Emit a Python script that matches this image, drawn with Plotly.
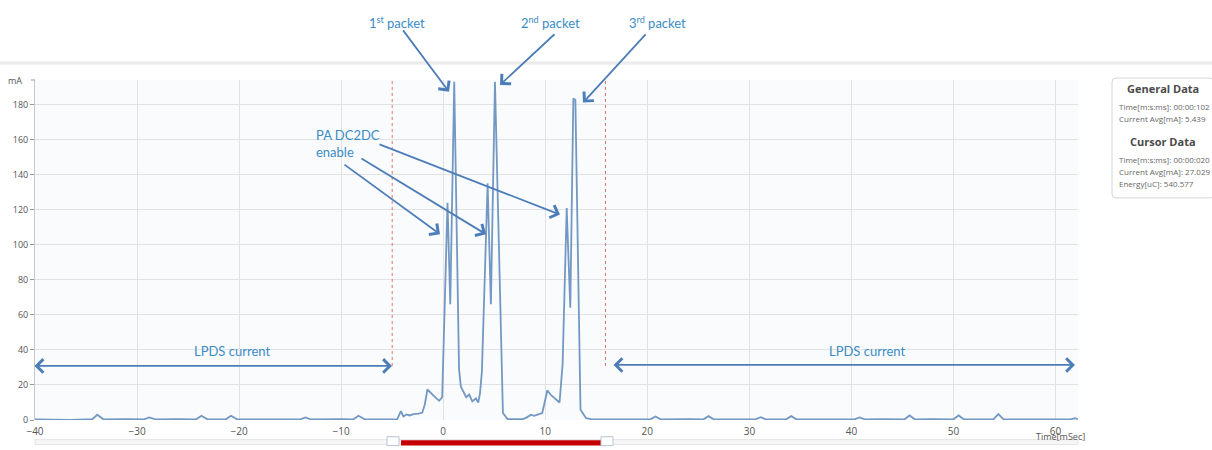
import plotly.graph_objects as go

# Current trace of a three-packet transmission (time in ms, current in mA)
time_ms = [
    -40.0, -38.0, -36.5, -35.0, -34.4, -33.9, -33.3, -31.0, -29.3, -28.8, -28.2,
    -26.0, -24.2, -23.7, -23.1, -21.3, -20.8, -20.2, -17.0, -14.0, -13.5, -13.0,
    -10.0, -8.8, -8.3, -7.7, -5.5, -4.5, -4.15, -3.9, -3.6, -3.3, -2.9, -2.4,
    -2.05, -1.8, -1.55, -1.1, -0.7, -0.4, -0.1, 0.42, 0.69, 1.08, 1.55, 1.73,
    2.0, 2.25, 2.55, 2.85, 3.2, 3.43, 3.6, 3.79, 4.35, 4.67, 5.07, 5.85, 6.3,
    7.8, 8.2, 8.6, 8.9, 9.3, 9.7, 9.9, 10.2, 10.6, 11.0, 11.4, 11.7, 12.1, 12.45,
    12.75, 12.95, 13.45, 13.6, 14.0, 14.5, 17.0, 19.0, 20.3, 20.8, 21.3, 24.0,
    25.5, 26.0, 26.5, 29.0, 30.6, 31.1, 31.6, 33.6, 34.1, 34.6, 37.0, 40.3,
    40.8, 41.3, 43.0, 45.2, 45.7, 46.2, 48.0, 50.0, 50.5, 51.0, 53.9, 54.4,
    54.9, 58.0, 61.5, 61.9, 62.2,
]
current_ma = [
    0.4, 0.3, 0.0, 0.4, 0.4, 3.0, 0.4, 0.5, 0.4, 1.5, 0.4,
    0.5, 0.4, 2.4, 0.4, 0.4, 2.4, 0.4, 0.5, 0.4, 1.5, 0.4,
    0.5, 0.4, 2.4, 0.4, 0.4, 0.5, 5.0, 2.0, 3.2, 2.6, 3.4, 3.6,
    4.2, 9.0, 17.4, 14.5, 12.5, 11.0, 13.0, 124.0, 66.0, 193.0, 29.0, 19.0,
    16.0, 13.0, 14.5, 10.6, 12.3, 10.0, 15.0, 27.6, 135.0, 66.0, 193.0, 4.0, 0.5,
    0.5, 1.5, 3.0, 2.4, 3.2, 4.0, 9.0, 17.0, 14.0, 12.0, 10.0, 32.0, 121.0, 64.0,
    183.5, 182.6, 6.0, 4.5, 1.0, 0.5, 0.4, 0.5, 0.4, 2.0, 0.4, 0.5,
    0.4, 2.2, 0.4, 0.4, 0.4, 1.6, 0.4, 0.4, 2.2, 0.4, 0.5, 0.4,
    1.5, 0.4, 0.5, 0.4, 2.6, 0.4, 0.5, 0.4, 2.6, 0.4, 0.4, 3.4,
    0.4, 0.5, 0.4, 1.0, 0.5,
]

# Cursor markers (ms)
cursor_start = -5.0
cursor_end = 15.9

y_ticks = [0, 20, 40, 60, 80, 100, 120, 140, 160, 180]
x_ticks = [-40, -30, -20, -10, 0, 10, 20, 30, 40, 50, 60]

general_rows = ["Time[m:s:ms]: 00:00:102", "Current Avg[mA]: 5.439"]
cursor_rows = ["Time[m:s:ms]: 00:00:020", "Current Avg[mA]: 27.029", "Energy[uC]: 540.577"]

W, H = 1212, 450
ML, MR, MT, MB = 35, 134, 80, 24
PW, PH = W - ML - MR, H - MT - MB
X_RANGE = [-40, 62.2]
Y_RANGE = [0, 194]


def px(x):
    return (x - ML) / PW


def py(y):
    return (H - MB - y) / PH


def dx(x):
    return X_RANGE[0] + (x - ML) / PW * (X_RANGE[1] - X_RANGE[0])


def dy(y):
    return Y_RANGE[0] + (H - MB - y) / PH * (Y_RANGE[1] - Y_RANGE[0])


TEXT_BLUE = "#3b8cc5"
ARROW_BLUE = "#4d7db8"
LINE_BLUE = "#7398c3"
ANN_FONT = "Lato"

fig = go.Figure()
fig.add_trace(go.Scatter(
    x=time_ms, y=current_ma, mode="lines",
    line=dict(color=LINE_BLUE, width=1.8),
    hoverinfo="skip", showlegend=False,
))

shapes = []
# cursor lines
for cx in (cursor_start, cursor_end):
    shapes.append(dict(type="line", xref="x", yref="y", x0=cx, x1=cx,
                       y0=dy(371), y1=Y_RANGE[1],
                       line=dict(color="#e2706f", width=1, dash="dot")))
# header separator band
shapes.append(dict(type="rect", xref="paper", yref="paper",
                   x0=px(0), x1=px(W), y0=py(64.5), y1=py(61),
                   fillcolor="#ececec", line=dict(width=0), layer="below"))
# "mA" tick mark at top of the y axis
shapes.append(dict(type="line", xref="paper", yref="paper",
                   x0=px(31), x1=px(35), y0=1, y1=1,
                   line=dict(color="#999", width=1)))

# info panel with rounded corners
x0, x1, y0, y1 = px(1112), px(1214), py(200), py(78)
rx, ry = 4 / PW, 4 / PH
panel = (f"M{x0+rx},{y1} L{x1-rx},{y1} Q{x1},{y1} {x1},{y1-ry} "
         f"L{x1},{y0+ry} Q{x1},{y0} {x1-rx},{y0} L{x0+rx},{y0} "
         f"Q{x0},{y0} {x0},{y0+ry} L{x0},{y1-ry} Q{x0},{y1} {x0+rx},{y1} Z")
shapes.append(dict(type="path", xref="paper", yref="paper", path=panel,
                   fillcolor="white", line=dict(color="#d6d6d6", width=1)))

# range selector strip below the axis
shapes.append(dict(type="rect", xref="paper", yref="paper",
                   x0=px(35), x1=px(1078), y0=py(451), y1=py(446),
                   fillcolor="#f6f6f6", line=dict(color="#e4e4e4", width=1)))
shapes.append(dict(type="rect", xref="paper", yref="paper",
                   x0=px(401), x1=px(601), y0=py(452), y1=py(446.5),
                   fillcolor="#c40000", line=dict(width=0)))
for hx in (393, 607):
    shapes.append(dict(type="rect", xref="paper", yref="paper",
                       x0=px(hx - 6), x1=px(hx + 6), y0=py(452), y1=py(443),
                       fillcolor="white", line=dict(color="#b8c4d4", width=1)))

ann = []


def arrow(tail, head, both=False):
    ann.append(dict(
        x=dx(head[0]), y=dy(head[1]), ax=dx(tail[0]), ay=dy(tail[1]),
        xref="x", yref="y", axref="x", ayref="y", text="",
        showarrow=True, arrowhead=4, startarrowhead=4, arrowsize=1.45,
        startarrowsize=1.45, arrowwidth=1.8, arrowcolor=ARROW_BLUE,
        arrowside="end+start" if both else "end", standoff=0, startstandoff=0,
    ))


def label(text, x, y, xanchor="center", size=13, color=TEXT_BLUE, family=ANN_FONT,
          align="center"):
    ann.append(dict(
        x=px(x), y=py(y), xref="paper", yref="paper", text=text,
        showarrow=False, xanchor=xanchor, yanchor="middle", align=align,
        font=dict(family=family, size=size, color=color),
    ))


# packet callouts
label("1<sup>st</sup> packet", 397, 21)
label("2<sup>nd</sup> packet", 550, 21)
label("3<sup>rd</sup> packet", 657, 21)
arrow((402, 28), (449, 92))
arrow((556, 32), (500, 85))
arrow((647, 32), (583, 103))

# PA DC2DC enable callouts
label("PA DC2DC<br>enable", 314, 145, xanchor="left", align="left")
arrow((378, 145), (560, 217))
arrow((360, 159), (486, 237))
arrow((343, 165), (440, 237))

# LPDS current spans
label("LPDS current", 232, 356)
label("LPDS current", 867, 356)
arrow((33, 371), (392, 371), both=True)
arrow((612, 370), (1075, 370), both=True)

# axis captions
label("mA", 15, 80, size=9, color="#555", family="Open Sans")
label("Time[mSec]", 1060, 443, size=9, color="#555", family="Open Sans")

# info panel text
label("<b>General Data</b>", 1163, 89, size=11, color="#4a4a4a", family="Open Sans")
for i, row in enumerate(general_rows):
    label(row, 1117, 107 + 12 * i, xanchor="left", size=8, color="#666", family="Open Sans")
label("<b>Cursor Data</b>", 1163, 143, size=11, color="#4a4a4a", family="Open Sans")
for i, row in enumerate(cursor_rows):
    label(row, 1117, 161 + 12 * i, xanchor="left", size=8, color="#666", family="Open Sans")

fig.update_layout(
    width=W, height=H,
    margin=dict(l=ML, r=MR, t=MT, b=MB, pad=0),
    paper_bgcolor="white", plot_bgcolor="#fafbfd",
    font=dict(family="Open Sans", size=10, color="#555"),
    shapes=shapes, annotations=ann, showlegend=False,
    xaxis=dict(range=X_RANGE, tickvals=x_ticks, showgrid=True,
               gridcolor="#e2e2e2", gridwidth=1, zeroline=False,
               showline=False, ticks="", tickfont=dict(size=10, color="#555"),
               ticklabelstandoff=4, fixedrange=True),
    yaxis=dict(range=Y_RANGE, tickvals=y_ticks, showgrid=True,
               gridcolor="#e2e2e2", gridwidth=1, zeroline=False,
               showline=True, linecolor="#c8c8c8", linewidth=1,
               ticks="outside", ticklen=4, tickcolor="#999",
               tickfont=dict(size=9, color="#555"), fixedrange=True),
)

fig.write_html("out.html")
